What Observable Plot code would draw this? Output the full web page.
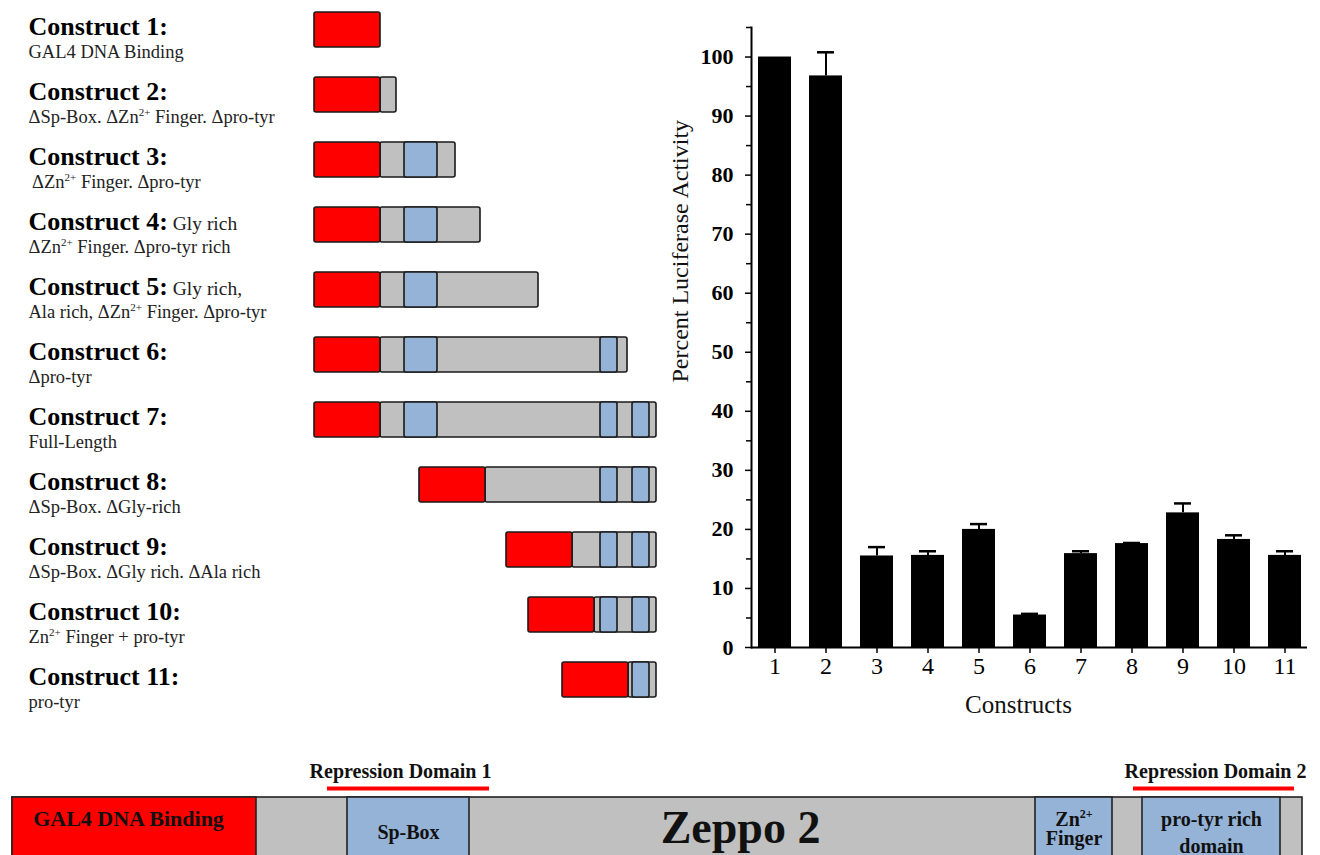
<!DOCTYPE html>
<html><head><meta charset="utf-8">
<script src="https://cdn.jsdelivr.net/npm/d3@7"></script>
<script src="https://cdn.jsdelivr.net/npm/@observablehq/plot@0.6"></script>
<style>
html,body{margin:0;padding:0;background:#fff;overflow:hidden;width:1320px;height:855px}
#top{display:flex}
svg{display:block}
</style></head><body>
<div id="top"><div id="constructs"></div><div id="bars"></div></div>
<div id="map"></div>
<script>
// ---------- construct diagrams ----------
const constructNames = ["1","2","3","4","5","6","7","8","9","10","11"];
const constructTitles = ["Construct 1:","Construct 2:","Construct 3:","Construct 4:","Construct 5:","Construct 6:","Construct 7:","Construct 8:","Construct 9:","Construct 10:","Construct 11:"];
const titleExtras = ["","",""," Gly rich"," Gly rich,","","","","","",""];
const constructSubtitles = [
  "GAL4 DNA Binding",
  "ΔSp-Box. ΔZn²⁺ Finger. Δpro-tyr",
  " ΔZn²⁺ Finger. Δpro-tyr",
  "ΔZn²⁺ Finger. Δpro-tyr rich",
  "Ala rich, ΔZn²⁺ Finger. Δpro-tyr",
  "Δpro-tyr",
  "Full-Length",
  "ΔSp-Box. ΔGly-rich",
  "ΔSp-Box. ΔGly rich. ΔAla rich",
  "Zn²⁺ Finger + pro-tyr",
  "pro-tyr"
];
// Zeppo 2 portion (schematic residue units) fused to GAL4 in each construct
const zeppoStart = [0, 0, 0, 0, 0, 0, 0, 105, 192, 214, 248];
const zeppoEnd   = [0, 16, 75, 100, 158, 247, 276, 276, 276, 276, 276];
const gal4Length = 66;
const zeppoLength = 276;
const domainNames = ["Sp-Box", "Zn Finger", "pro-tyr"];
const domainStart = [24, 220, 252];
const domainEnd   = [57, 237, 269];

// ---------- bar chart ----------
const activity    = [100, 96.8, 15.5, 15.6, 20.0, 5.5, 15.9, 17.6, 22.8, 18.3, 15.6];
const activityErr = [0, 4.0, 1.5, 0.7, 0.9, 0.2, 0.4, 0.1, 1.6, 0.7, 0.7];
const yMajorTicks = [0, 10, 20, 30, 40, 50, 60, 70, 80, 90, 100];
const yMinorTicks = [5, 15, 25, 35, 45, 55, 65, 75, 85, 95, 105];

// ---------- Zeppo 2 domain map ----------
const mapParts = ["backbone", "GAL4 DNA Binding", "Sp-Box", "Zn²⁺\nFinger", "pro-tyr rich\ndomain"];
const mapKinds = ["linker", "gal4", "domain", "domain", "domain"];
const mapStart = [0, 0, 335, 1023, 1130];
const mapEnd   = [1290, 244, 457, 1100, 1268];
const mapTitle = "Zeppo 2";
const mapTitlePos = 728;
const repressionNames = ["Repression Domain 1", "Repression Domain 2"];
const repressionStart = [315, 1121];
const repressionEnd   = [477, 1282];
const repressionLabelPos = [388, 1203];

const colors = {gal4: "#ff0000", linker: "#c0c0c0", domain: "#95b3d7"};
const serif = "'Liberation Serif', 'Times New Roman', Times, serif";

// superscript helper: turns "²⁺" into a raised small "2+"
function supify(root, fs) {
  const walker = document.createTreeWalker(root, NodeFilter.SHOW_TEXT);
  const nodes = [];
  while (walker.nextNode()) if (walker.currentNode.nodeValue.includes("²⁺")) nodes.push(walker.currentNode);
  const NS = "http://www.w3.org/2000/svg";
  for (const node of nodes) {
    const parts = node.nodeValue.split("²⁺");
    const parent = node.parentNode;
    parts.forEach((p, k) => {
      if (k > 0) {
        const s = document.createElementNS(NS, "tspan");
        s.textContent = "2+";
        s.setAttribute("font-size", Math.round(fs * 0.58));
        s.setAttribute("dy", -fs * 0.36);
        parent.insertBefore(s, node);
        const r = document.createElementNS(NS, "tspan");
        r.textContent = p;
        r.setAttribute("dy", fs * 0.36);
        parent.insertBefore(r, node);
      } else {
        parent.insertBefore(document.createTextNode(p), node);
      }
    });
    parent.removeChild(node);
  }
}

// ---------- Plot A: constructs ----------
const segs = [];
constructNames.forEach((c, i) => {
  const s = zeppoStart[i], e = zeppoEnd[i];
  if (e > s) segs.push({c, x1: s, x2: e, kind: "linker"});
  domainStart.forEach((ds, j) => {
    const a = Math.max(ds, s), b = Math.min(domainEnd[j], e);
    if (b > a) segs.push({c, x1: a, x2: b, kind: "domain"});
  });
  segs.push({c, x1: s - gal4Length, x2: s, kind: "gal4"});
});

const plotA = Plot.plot({
  width: 660, height: 730,
  marginTop: 9.5, marginBottom: 31.5, marginLeft: 314, marginRight: 4,
  x: {domain: [-gal4Length, zeppoLength], axis: null},
  y: {domain: constructNames, paddingInner: 0.465, paddingOuter: 0, axis: null},
  color: {type: "identity"},
  style: {fontFamily: serif, background: "white", overflow: "visible"},
  marks: [
    Plot.barX(segs, {x1: "x1", x2: "x2", y: "c", fill: d => colors[d.kind], stroke: "#1a1a1a", strokeWidth: 1.6, rx: 2}),
    Plot.text(constructNames, {y: d => d, text: (d, i) => constructTitles[i], frameAnchor: "left", dx: -286, dy: -3,
      textAnchor: "start", fontSize: 26, fontWeight: "bold", fill: "black"}),
    Plot.text(constructNames, {y: d => d, text: (d, i) => constructSubtitles[i], frameAnchor: "left", dx: -286, dy: 22,
      textAnchor: "start", fontSize: 18.5, fill: "#222"})
  ]
});
{
  const groups = plotA.querySelectorAll('g[aria-label="text"]');
  const NS = "http://www.w3.org/2000/svg";
  groups[0].querySelectorAll("text").forEach((t, i) => {
    if (titleExtras[i]) {
      const s = document.createElementNS(NS, "tspan");
      s.textContent = titleExtras[i];
      s.setAttribute("font-size", 19.5);
      s.setAttribute("font-weight", "normal");
      s.setAttribute("fill", "#222");
      t.appendChild(s);
    }
  });
  supify(groups[1], 18.5);
}
document.getElementById("constructs").appendChild(plotA);

// ---------- Plot B: luciferase bars ----------
const barData = constructNames.map((c, i) => ({c, v: activity[i], e: activityErr[i]}));
const errData = barData.filter(d => d.e > 0);
const plotB = Plot.plot({
  width: 660, height: 730,
  marginLeft: 91, marginRight: 13, marginTop: 27, marginBottom: 83,
  x: {domain: constructNames, paddingInner: 0.353, paddingOuter: 0.127, align: 0.5, axis: null},
  y: {domain: [0, 105], axis: null},
  style: {fontFamily: serif, background: "white", overflow: "visible", color: "black"},
  marks: [
    Plot.barY(barData, {x: "c", y: "v", fill: "black"}),
    Plot.ruleX(errData, {x: "c", y1: "v", y2: d => d.v + d.e, stroke: "black", strokeWidth: 2}),
    Plot.tickY(errData, {x: "c", y: d => d.v + d.e, stroke: "black", strokeWidth: 2.5, insetLeft: 8, insetRight: 8}),
    Plot.ruleY([0], {stroke: "black", strokeWidth: 2}),
    Plot.frame({anchor: "left", stroke: "black", strokeWidth: 2}),
    Plot.axisY({ticks: yMajorTicks, tickSize: 6, tickPadding: 12, fontSize: 22, fontWeight: "bold", label: null, strokeWidth: 1.5}),
    Plot.axisY({ticks: yMinorTicks, tickSize: 5, tickFormat: () => "", label: null, strokeWidth: 1.5}),
    Plot.axisX({tickSize: 6, tickPadding: 3, fontSize: 24, label: null, strokeWidth: 1.5}),
    Plot.text(["Percent Luciferase Activity"], {text: d => d, frameAnchor: "left", rotate: -90, dx: -71, dy: 45, fontSize: 24, fill: "#111"}),
    Plot.text(["Constructs"], {text: d => d, frameAnchor: "bottom", dx: -11, dy: 65, fontSize: 25, fill: "#111"})
  ]
});
document.getElementById("bars").appendChild(plotB);

// ---------- Plot C: domain map ----------
const mapData = mapParts.map((name, i) => ({name, kind: mapKinds[i], x1: mapStart[i], x2: mapEnd[i]}));
const rdData = repressionNames.map((name, i) => ({name, x1: repressionStart[i], x2: repressionEnd[i], xl: repressionLabelPos[i]}));
const mapLabels = mapData.filter(d => d.kind !== "linker");
const plotC = Plot.plot({
  width: 1320, height: 180,
  marginLeft: 12, marginRight: 18, marginTop: 67, marginBottom: 0,
  x: {domain: [0, 1290], axis: null},
  y: {domain: [0, 1], axis: null},
  color: {type: "identity"},
  style: {fontFamily: serif, background: "white", overflow: "visible"},
  marks: [
    Plot.rect(mapData, {x1: "x1", x2: "x2", y1: 0, y2: 1, fill: d => colors[d.kind], stroke: "#222", strokeWidth: 1.6}),
    Plot.ruleY(rdData, {x1: "x1", x2: "x2", y: 1, dy: -9, stroke: "#ff0000", strokeWidth: 4}),
    Plot.text(rdData, {x: "xl", y: 1, dy: -26, text: "name", fontSize: 20, fontWeight: "bold", fill: "#111"}),
    Plot.text(mapLabels.filter(d => d.kind === "gal4"), {x: d => (d.x1 + d.x2) / 2, y: 1, dy: 21, dx: -6, text: "name", fontSize: 22, fontWeight: "bold", fill: "#111"}),
    Plot.text(mapLabels.filter(d => d.kind === "domain"), {x: d => (d.x1 + d.x2) / 2, y: 1, dy: 33, text: "name", fontSize: 20, fontWeight: "bold", lineHeight: 1.35, fill: "#111"}),
    Plot.text([mapTitle], {x: () => mapTitlePos, y: 1, dy: 31, text: d => d, fontSize: 46, fontWeight: "bold", fill: "#111"})
  ]
});
supify(plotC, 20);
document.getElementById("map").appendChild(plotC);
</script>
</body></html>
